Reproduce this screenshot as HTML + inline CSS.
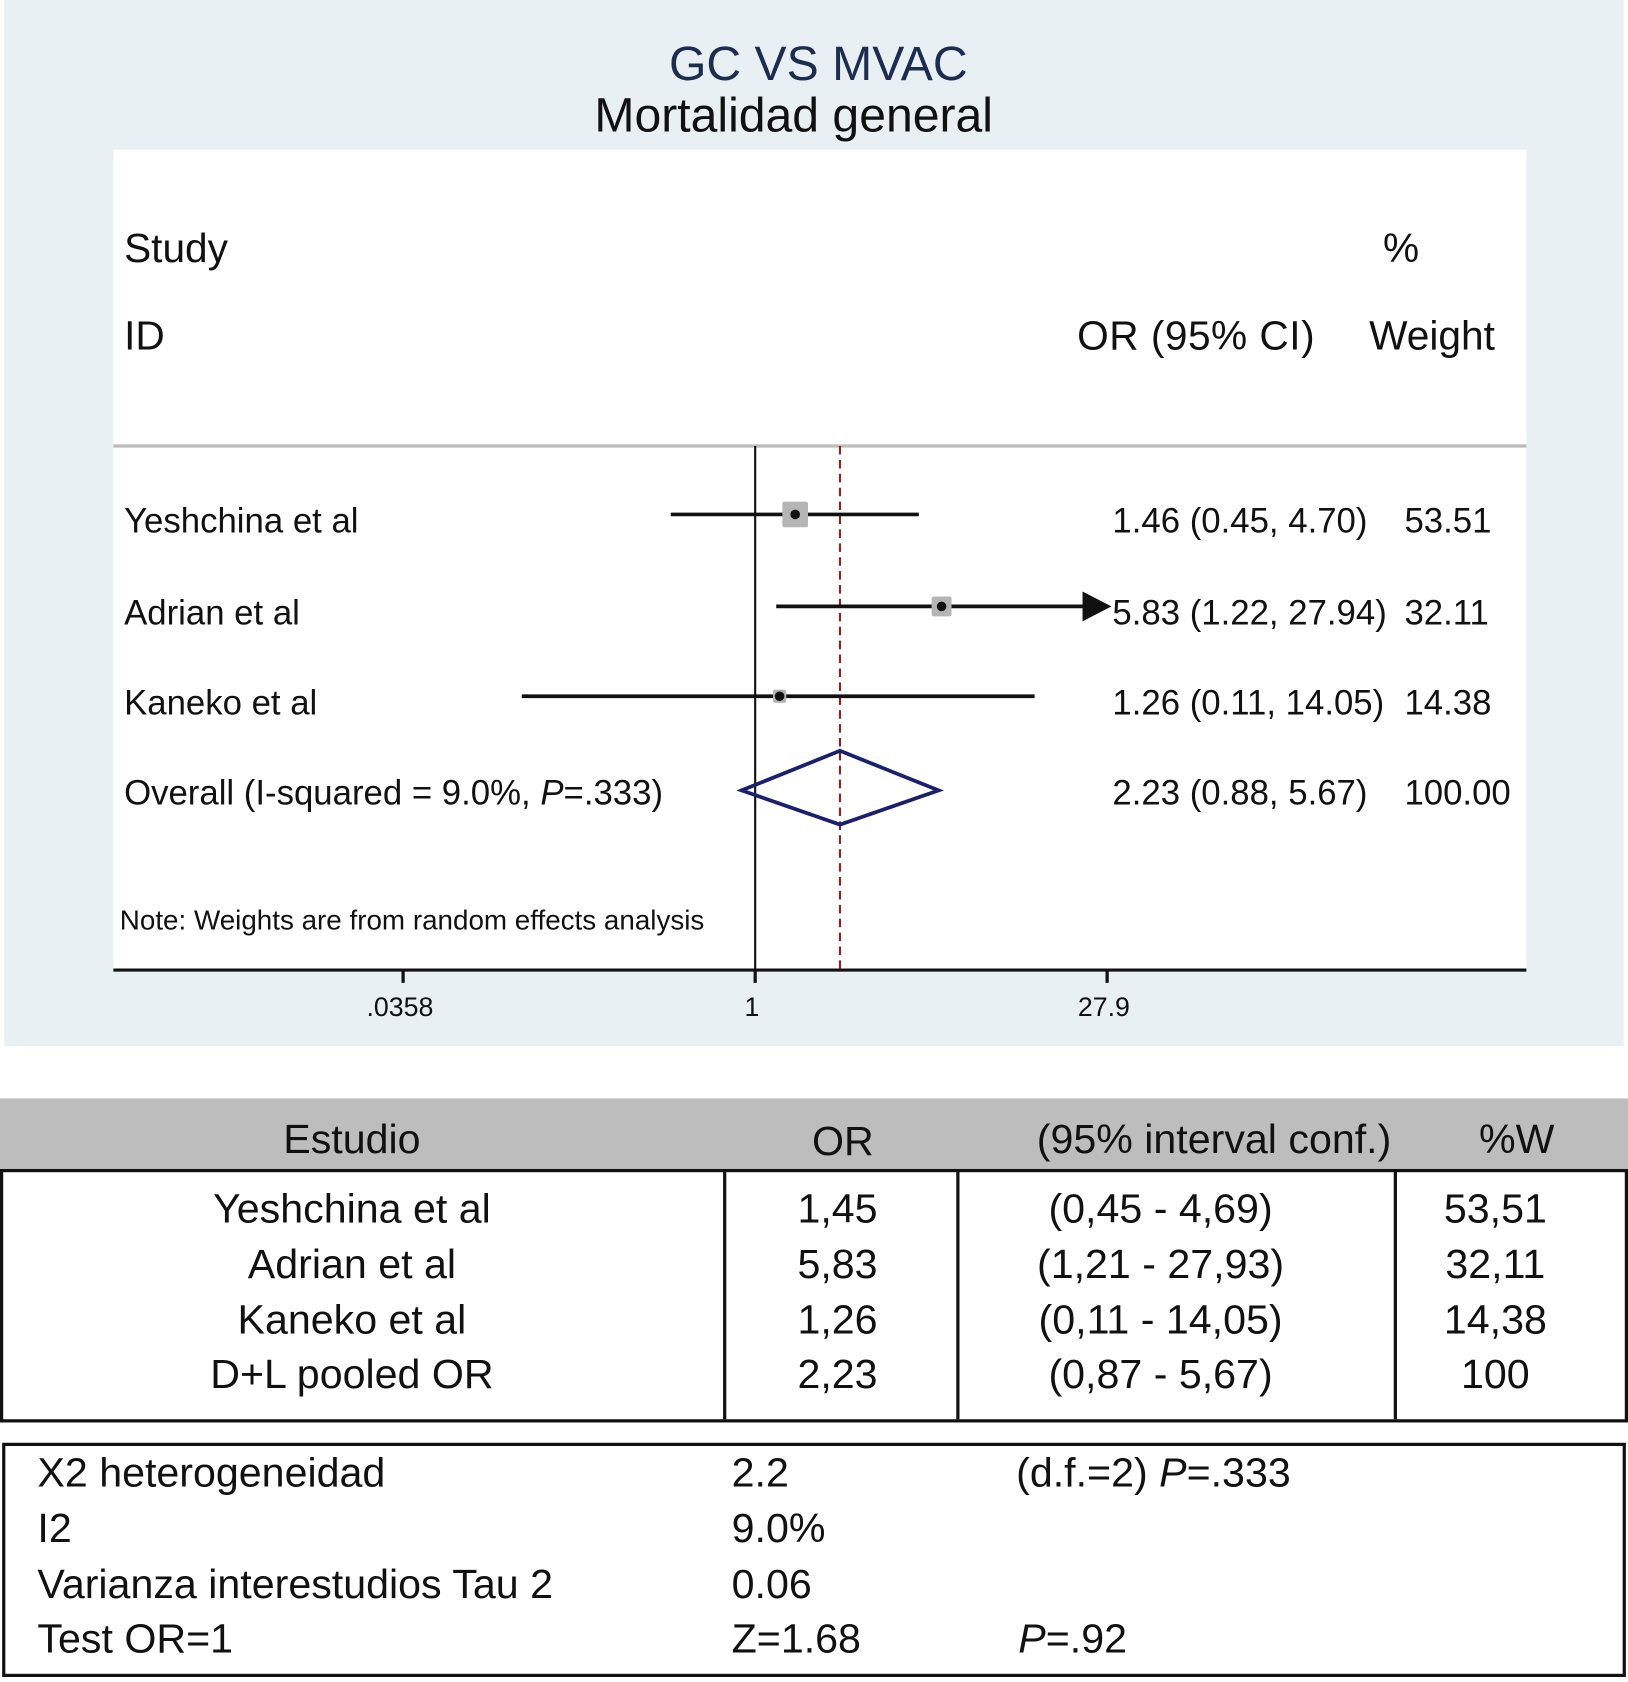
<!DOCTYPE html>
<html><head><meta charset="utf-8">
<style>
html,body{margin:0;padding:0;background:#fff;}
body{width:1628px;height:1677px;overflow:hidden;position:relative;font-family:"Liberation Sans",sans-serif;}
#wrap{position:absolute;left:0;top:0;width:1522px;height:1568px;transform:scale(1.06965,1.06952);transform-origin:0 0;}
svg text{font-family:"Liberation Sans",sans-serif;}
</style></head>
<body>
<div id="wrap">
<svg id="chart" width="1522" height="1568" viewBox="0 0 1522 1568" xmlns="http://www.w3.org/2000/svg">
  <rect x="4" y="0" width="1514" height="978" fill="#e9f0f3"/>
  <rect x="106" y="140" width="1321" height="767" fill="#ffffff"/>
  <text x="765" y="75" font-size="45" fill="#1c2d4f" text-anchor="middle">GC VS MVAC</text>
  <text x="742" y="123" font-size="45" fill="#111" text-anchor="middle">Mortalidad general</text>
  <text x="116" y="245" font-size="38" fill="#111">Study</text>
  <text x="1293" y="245" font-size="38" fill="#111">%</text>
  <text x="116" y="327" font-size="38" fill="#111">ID</text>
  <text x="1007" y="327" font-size="38" fill="#111" textLength="222">OR (95% CI)</text>
  <text x="1280" y="327" font-size="38" fill="#111">Weight</text>
  <line x1="106" y1="417" x2="1427" y2="417" stroke="#bbbbbb" stroke-width="3"/>
  <line x1="106" y1="907" x2="1427" y2="907" stroke="#111" stroke-width="3"/>
  <text x="112" y="869" font-size="26" fill="#111">Note: Weights are from random effects analysis</text>
  <g id="marks"></g>
</svg>
<div style="position:absolute;left:0;top:1027px;width:1522px;height:300px;">
  <div style="position:absolute;left:0;top:0;width:1522px;height:66px;background:#bdbdbd;"></div>
  <div style="position:absolute;left:0;top:66px;width:1516px;height:231px;border:3px solid #111;"></div>
  <div style="position:absolute;left:676px;top:66px;width:3px;height:234px;background:#111;"></div>
  <div style="position:absolute;left:894px;top:66px;width:3px;height:234px;background:#111;"></div>
  <div style="position:absolute;left:1303px;top:66px;width:3px;height:234px;background:#111;"></div>
</div>
<svg width="1522" height="1568" viewBox="0 0 1522 1568" style="position:absolute;left:0;top:0;">
  <g font-size="38.5" fill="#111" text-anchor="middle">
    <text x="329" y="1078">Estudio</text>
    <text x="788" y="1080">OR</text>
    <text x="1135" y="1078">(95% interval conf.)</text>
    <text x="1418" y="1078">%W</text>
    <text x="329" y="1143">Yeshchina et al</text>
    <text x="783" y="1143">1,45</text>
    <text x="1085" y="1143">(0,45 - 4,69)</text>
    <text x="1398" y="1143">53,51</text>
    <text x="329" y="1195">Adrian et al</text>
    <text x="783" y="1195">5,83</text>
    <text x="1085" y="1195">(1,21 - 27,93)</text>
    <text x="1398" y="1195">32,11</text>
    <text x="329" y="1247">Kaneko et al</text>
    <text x="783" y="1247">1,26</text>
    <text x="1085" y="1247">(0,11 - 14,05)</text>
    <text x="1398" y="1247">14,38</text>
    <text x="329" y="1298">D+L pooled OR</text>
    <text x="783" y="1298">2,23</text>
    <text x="1085" y="1298">(0,87 - 5,67)</text>
    <text x="1398" y="1298">100</text>
  </g>
  <rect x="3.5" y="1350.5" width="1515" height="216" fill="none" stroke="#111" stroke-width="3"/>
  <g font-size="38.5" fill="#111">
    <text x="35" y="1390">X2 heterogeneidad</text>
    <text x="684" y="1390">2.2</text>
    <text x="950" y="1390">(d.f.=2) <tspan font-style="italic">P</tspan>=.333</text>
    <text x="35" y="1442">I2</text>
    <text x="684" y="1442">9.0%</text>
    <text x="35" y="1494">Varianza interestudios Tau 2</text>
    <text x="684" y="1494">0.06</text>
    <text x="35" y="1545">Test OR=1</text>
    <text x="684" y="1545">Z=1.68</text>
    <text x="952" y="1545"><tspan font-style="italic">P</tspan>=.92</text>
  </g>
</svg>
</div>
<script>
const studies = ["Yeshchina et al", "Adrian et al", "Kaneko et al"];
const orValues = [1.46, 5.83, 1.26];
const ciLow = [0.45, 1.22, 0.11];
const ciHigh = [4.70, 27.94, 14.05];
const weights = [53.51, 32.11, 14.38];
const orLabels = ["1.46 (0.45, 4.70)", "5.83 (1.22, 27.94)", "1.26 (0.11, 14.05)"];
const weightLabels = ["53.51", "32.11", "14.38"];
const pooled = [2.23, 0.88, 5.67];
const pooledLabel = "2.23 (0.88, 5.67)";
const tickValues = [0.0358, 1, 27.9];
const tickLabels = [".0358", "1", "27.9"];

const NS = "http://www.w3.org/2000/svg";
const X0 = 706, K = 98.85;
const AXMAX = Math.max(...tickValues);
function xs(v){ return X0 + Math.log(v) * K; }
const rowY = [481, 567, 651];
const g = document.getElementById('marks');
function mk(tag, attrs){ const e = document.createElementNS(NS, tag); for (const k in attrs) e.setAttribute(k, attrs[k]); g.appendChild(e); return e; }

let e = mk('line', {x1: xs(1), y1: 417, x2: xs(1), y2: 907, stroke: '#111', 'stroke-width': 2});


e = mk('line', {x1: xs(pooled[0]), y1: 417, x2: xs(pooled[0]), y2: 907, stroke: '#8b2323', 'stroke-width': 2, 'stroke-dasharray': '8,5'});



tickValues.forEach((v, i) => {
  const t = mk('line', {x1: xs(v), y1: 907, x2: xs(v), y2: 919, stroke: '#111', 'stroke-width': 3});
  
  
  const l = mk('text', {x: xs(v) - 3, y: 950, 'font-size': 25, 'text-anchor': 'middle', fill: '#111'});
  l.textContent = tickLabels[i];
  
  
});

const maxW = Math.max(...weights);
studies.forEach((s, i) => {
  const y = rowY[i];
  const clipped = ciHigh[i] > AXMAX;
  const hi = clipped ? xs(AXMAX) + 4 : xs(ciHigh[i]);
  const ln = mk('line', {x1: xs(ciLow[i]), y1: y, x2: clipped ? hi - 24 : hi, y2: y, stroke: '#111', 'stroke-width': 3.5});
  
  
  if (clipped) {
    const a = mk('polygon', {points: `${hi-27},${y-14} ${hi},${y} ${hi-27},${y+14}`, fill: '#111'});
    
    
  }
  const sz = 24 * Math.sqrt(weights[i] / maxW);
  const sq = mk('rect', {x: xs(orValues[i]) - sz/2, y: y - sz/2, width: sz, height: sz, fill: '#b5b5b5', rx: 2});
  
  
  const d = mk('circle', {cx: xs(orValues[i]), cy: y, r: 4.5, fill: '#111'});
  
  
  const n = mk('text', {x: 116, y: y + 17, 'font-size': 32.5, fill: '#111'});
  n.textContent = s;
  
  
  const o = mk('text', {x: 1040, y: y + 17, 'font-size': 32.5, fill: '#111'});
  o.textContent = orLabels[i];
  
  
  const w = mk('text', {x: 1313, y: y + 17, 'font-size': 32.5, fill: '#111'});
  w.textContent = weightLabels[i];
  
  
});

const dy = 739;
const dm = mk('polygon', {points: `${xs(pooled[1])},${dy} ${xs(pooled[0])},${dy-37} ${xs(pooled[2])},${dy} ${xs(pooled[0])},${dy+32}`, fill: 'none', stroke: '#1a1f6e', 'stroke-width': 3.5});


const ol = mk('text', {x: 116, y: dy + 13, 'font-size': 32.5, fill: '#111'});
ol.innerHTML = 'Overall (I-squared = 9.0%, <tspan font-style="italic">P</tspan>=.333)';


const pv = mk('text', {x: 1040, y: dy + 13, 'font-size': 32.5, fill: '#111'});
pv.textContent = pooledLabel;


const pw = mk('text', {x: 1313, y: dy + 13, 'font-size': 32.5, fill: '#111'});
pw.textContent = "100.00";


</script>
</body></html>
